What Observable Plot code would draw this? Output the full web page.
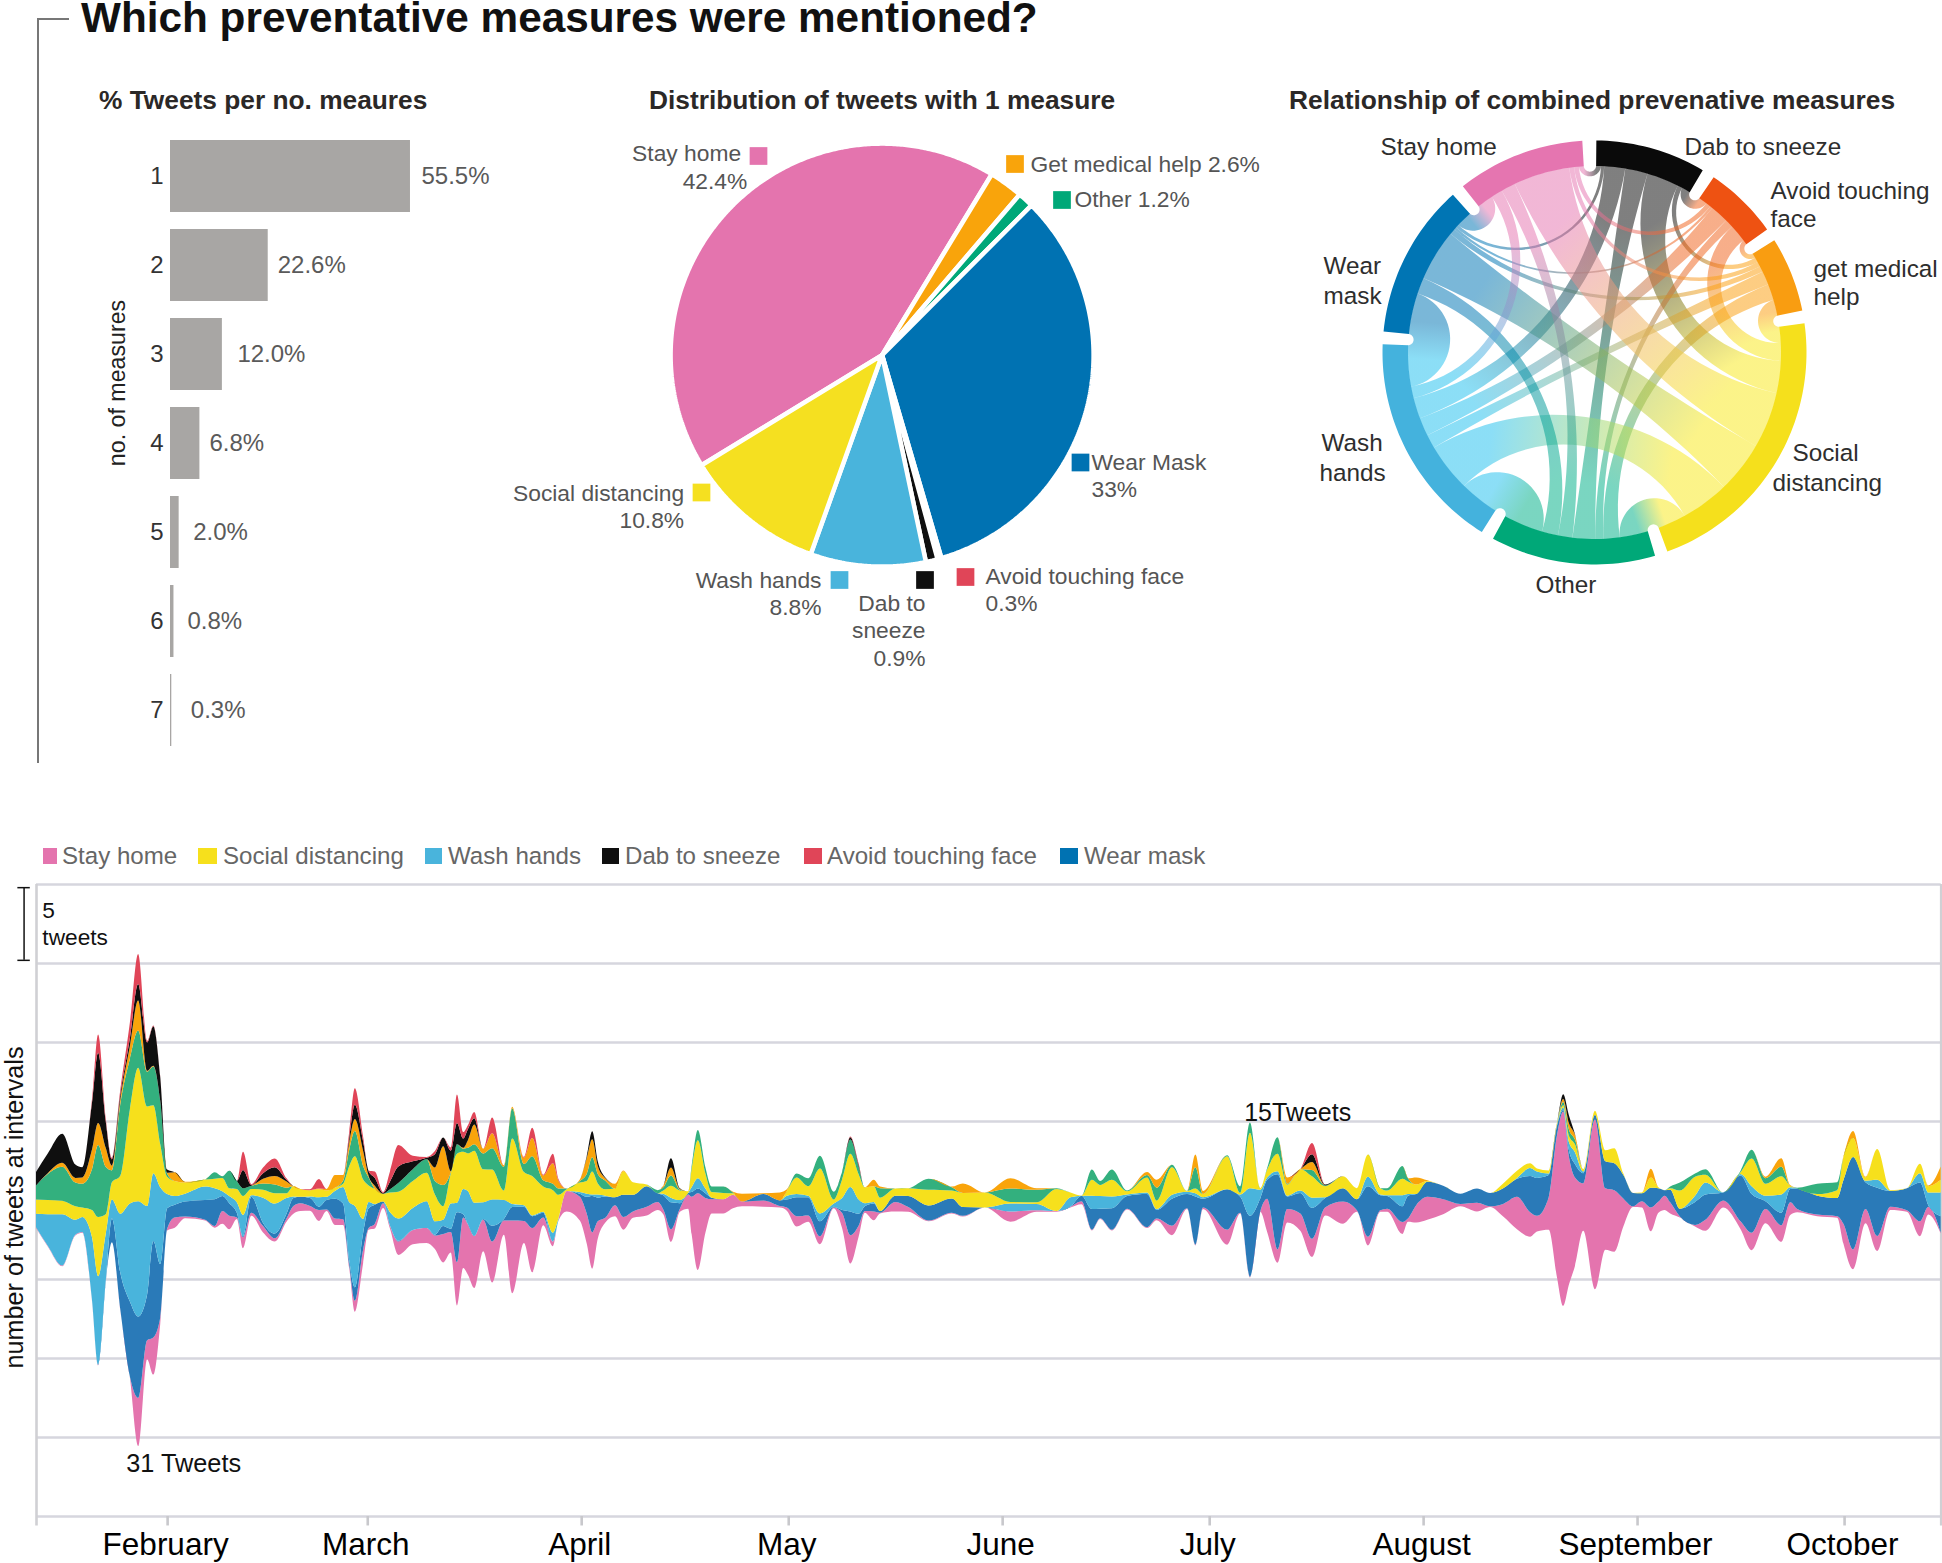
<!DOCTYPE html>
<html><head><meta charset="utf-8">
<script src="https://cdn.jsdelivr.net/npm/d3@7"></script>
<script src="https://cdn.jsdelivr.net/npm/@observablehq/plot@0.6"></script>
<style>
html,body{margin:0;padding:0;background:#fff;overflow:hidden}
#root{position:relative;width:1942px;height:1563px;overflow:hidden;font-family:"Liberation Sans",Arial,sans-serif}
svg,svg text{font-family:"Liberation Sans",Arial,sans-serif !important}
.h{position:absolute;white-space:nowrap;line-height:1}
.sw{position:absolute}
</style></head><body><div id="root"></div>
<script>
// ---------- DATA: bars ----------
const barLabels = ["1","2","3","4","5","6","7"];
const barValues = [55.5,22.6,12.0,6.8,2.0,0.8,0.3];
// ---------- DATA: pie ----------
const pieNames  = ["Stay home","Get medical help","Other","Wear Mask","Avoid touching face","Dab to sneeze","Wash hands","Social distancing"];
const pieValues = [42.4,2.6,1.2,33,0.3,0.9,8.8,10.8];
const pieColors = ["#e474ae","#f9a40b","#00a878","#0072b2","#e04558","#0f0f0f","#49b4dc","#f5e020"];
// ---------- DATA: chord ----------
const chordNames  = ["Dab to sneeze","Avoid touching face","get medical help","Social distancing","Other","Wash hands","Wear mask","Stay home"];
const chordColors = ["#0a0a0a","#ee5212","#f99d11","#f5e01c","#00a878","#44b2dd","#0075b4","#e575b0"];
const ribbonColors = ["#0a0a0a","#f0641e","#fb9f10","#f8e81c","#00b088","#22c0ee","#0075b4","#e575b0"];
const chordDab    = [0,2.7,1.5,10,7,6.5,1,1.5];
const chordAvoid  = [2.7,0,1.5,5.5,2.6,5.7,.8,1.5];
const chordHelp   = [1.5,1.5,0,5,5,4.3,1.8,1.5];
const chordSocial = [10,5.5,5,0,8.8,15,16,17.5];
const chordOther  = [7,2.6,5,8.8,0,12.25,5.05,4.5];
const chordWash   = [6.5,5.7,4.3,15,12.25,0,12.75,3.6];
const chordMask   = [1,.8,1.8,16,5.05,12.75,0,5];
const chordHome   = [1.5,1.5,1.5,17.5,4.5,3.6,5,0];
// ---------- DATA: stream (tweets; days since 13 Jan 2020) ----------
const days = [0,1.7,3.8,5.7,6.7,8.1,9,10.1,11,12.2,
13.6,14.8,16.1,17,18,19,20.1,21.6,24.5,25.9,
27,28,29.1,30,31.2,32.9,34.6,36.3,37.3,38.3,
39.7,41,42.1,43.3,44.5,45.4,46.2,47.4,48.2,49.1,
50.3,51.3,52.5,54.6,56.6,57.8,59,60.1,61,61.9,
62.6,63.5,64.8,66.1,67.8,69,70.7,71.9,73.5,74.9,
75.7,76.9,78.8,79.8,80.6,81.4,82.5,83.9,85.1,86.5,
88.5,90.1,90.9,92,93.3,94.5,95,95.9,97,97.9,
99.6,101,102.3,105.4,107.8,108.8,110.2,111.9,113.6,115.6,
116.8,118,119.2,120.1,121.4,122.3,124.5,126.4,129.3,132.7,
134.3,137.5,141.2,145,147.9,149.9,151.5,153,154.2,155.9,
158.1,161,162.4,164.6,166.8,168,169.1,172.6,174.5,175.9,
177.4,178.4,179.9,181.3,183.2,184.9,186.8,189.4,191.4,193,
194.8,195.8,198,198.8,200,201.6,203.9,206.4,208.8,210.7,
212.6,214.6,216.5,217.5,219.2,220.4,221.3,222.1,223,224.2,
225.9,227.4,228.7,230,231.4,232.7,234,235.1,236,236.8,
238.2,240.4,241.9,244.5,247,248.6,250.6,252.9,254.2,255.2,
258.1,261,261.9,263.3,265.1,266.8,268.7,271.1,273,274.2,276];
const avoidTouching = [0,0,0,0,0,.2,1.15,.2,.1,.3,
1,1.9,.1,.05,.05,0,0,0,0,0,
0,0,0,1.15,.05,.35,.55,.1,0,0,
.05,.6,0,0,0,.4,1.05,.3,.05,.4,
.05,.65,1.35,.35,.05,.2,0,.2,1.8,.4,
.25,.4,0,1,0,0,.05,.65,.05,.6,
.1,0,0,0,0,0,0,0,0,0,
0,0,0,0,0,0,0,0,0,0,
0,0,0,0,0,0,0,0,0,0,
0,.05,.1,0,0,0,0,0,0,0,
0,0,0,0,0,0,0,0,0,0,
0,0,0,0,0,0,0,0,0,0,
0,0,0,0,0,.7,0,0,0,0,
0,0,0,0,0,0,0,0,0,0,
0,0,0,0,0,0,0,0,0,0,
0,0,0,0,0,0,0,0,0,0,
0,0,0,0,0,0,0,0,0,0,
0,0,0,0,0,0,0,0,0,0,0];
const dabToSneeze = [.85,1.25,1.85,.85,.65,2.95,4.45,1.7,.4,.3,
.5,1.05,1.8,2.5,1.5,.2,0,0,0,0,
0,0,0,1.15,.05,.35,.55,.1,0,0,
0,0,0,0,0,.3,.9,.6,.3,.5,
.05,.5,1.05,.5,.1,.85,.55,1.3,1.35,.6,
.7,.4,0,0,0,0,0,0,0,0,
0,0,0,.1,.5,.3,.05,0,0,0,
0,0,0,.6,.05,0,0,0,0,0,
0,0,0,0,0,0,0,0,0,0,
0,.15,.1,0,0,0,0,0,0,0,
0,0,0,0,0,0,0,0,0,0,
0,0,0,0,0,0,0,0,0,0,
0,0,0,0,0,.5,.05,0,0,0,
0,0,0,0,0,0,0,0,0,0,
0,0,0,0,0,0,.3,.5,.05,0,
0,0,0,0,0,0,0,0,0,0,
0,0,0,0,0,0,0,0,0,0,
0,0,0,0,0,0,0,0,0,0,0];
const getMedicalHelp = [0,.05,.25,.3,.4,1.25,1.4,1.2,.3,.3,
.8,1.9,.05,.05,0,.05,.55,.05,0,0,
0,0,0,0,0,.3,.55,.4,0,0,
0,.05,.1,.8,.35,.45,.75,.95,.1,.2,
0,0,0,0,0,.85,2.45,.05,0,.05,
.5,1.25,.3,.95,.1,.1,.4,1.15,.3,1.3,
.5,0,.1,1,1.15,.5,.15,.3,.05,0,
0,0,.1,.5,.05,0,0,0,0,0,
0,.05,.5,.05,.5,.1,0,0,0,0,
0,0,0,0,.4,.1,0,0,0,.05,
.6,0,.65,.1,0,0,0,0,0,0,
0,.2,.5,0,0,.8,.2,0,0,0,
0,0,0,.4,0,.5,0,0,0,0,
0,0,0,0,.45,.05,0,0,0,0,
0,0,0,0,0,0,.2,.4,.3,0,
0,0,0,0,0,0,.55,0,0,0,
0,0,0,0,0,0,.1,.55,.05,0,
0,0,.05,.45,.05,0,0,0,0,.05,.85];
const otherMeasure = [.9,1.65,2.15,1.5,1.5,2.55,4.55,3,.75,4.5,
3.2,2.35,2.2,2.45,2.75,.2,0,0,0,.4,
.1,1.1,.5,.5,.2,.4,.55,.35,0,0,
0,0,0,0,.2,1.05,1.6,.85,.5,0,
0,.2,.55,.75,.85,.85,1.35,.1,.6,.2,
.35,.4,1,1.35,1.5,1.9,.5,1.25,.4,.4,
.4,.05,.1,.45,.9,.6,.55,0,0,0,
0,.2,.2,.65,.05,0,.2,.65,.4,.35,
.4,.05,0,0,0,0,.25,.5,.8,.5,
.5,.9,.5,0,0,.6,0,0,.7,.2,
0,0,.85,.8,.05,0,0,.65,.25,.65,
.05,.15,.8,.15,0,1.35,0,.05,.4,.65,
0,.1,1.05,.05,0,.4,.05,0,0,0,
0,.15,.8,.2,0,0,0,0,0,0,
0,0,0,0,0,0,.2,.4,.3,0,
0,0,0,0,0,0,0,0,0,.1,
.5,.2,.35,0,.1,.55,.35,.6,0,.05,
.65,.5,0,0,0,0,0,0,0,0,0];
const socialDistancing = [.9,.9,.85,.85,.6,1.7,3.75,1.25,1.1,2.4,
5.95,8.45,6.3,4.3,2.75,1.1,.95,.7,.45,.6,
.85,.5,.85,1.2,.4,.5,.65,.3,.65,.5,
.4,.5,.4,.2,.2,2.3,3.15,2.5,1.05,.95,
.5,1.25,1.7,1.7,1.8,1.7,.85,1.9,3.1,2.35,
2.4,3.3,2.1,1.9,.6,4.15,2.1,2.5,1.6,2.7,
1.5,.1,.6,.8,1.45,.7,.4,.55,1.5,.8,
.1,0,.2,.75,.6,.1,1.15,2.4,.95,.35,
.4,.1,0,0,0,.3,1.05,.6,2.85,.25,
1.15,2.1,1.6,1,1,.85,.45,.5,1,.5,
.9,.95,.1,.1,1.4,.3,0,1,.7,1.05,
.2,.95,.55,1.75,.05,.3,.2,2.1,.1,3.5,
.1,.5,1.1,.7,1.35,1.35,.7,.75,.7,1.4,
.4,.3,1.05,.8,.6,.05,0,0,0,0,
.3,.45,.3,.2,.2,.1,.15,.4,.5,.15,
.25,.7,.95,.1,0,.05,.65,.05,0,.1,
1.15,1.2,.5,0,.1,1.75,.75,1.15,.1,0,
.1,.5,1.45,1.2,.2,1.95,.05,0,.6,.4,.8];
const washHands = [.85,2,3.25,.95,.95,3.95,5.6,3,1.2,3.7,
6.2,7.3,5.6,4.3,4.85,.9,.55,.5,.85,.7,
.3,.45,.65,1.35,.1,1.6,1.9,1,.1,0,
.1,.6,.2,.5,1.05,3.7,5.15,.9,.4,.05,
0,.85,1.4,1.4,1.7,.85,.4,1.6,.6,1.6,
2.1,2.1,1.05,1.65,1.2,.2,.1,.05,.05,.55,
.1,0,.1,.2,.1,.2,.05,0,0,0,
0,0,.1,.3,.2,0,.3,.65,.3,0,
0,0,0,0,0,.25,.2,.1,.5,.2,
.75,1.55,.9,.2,.1,0,0,0,0,0,
0,0,.5,.4,0,.6,0,.85,.8,.75,
.1,.1,.05,.25,.15,.2,.1,0,.15,1.75,
.55,.15,.2,.05,.15,.65,.05,0,0,.6,
.05,.05,.7,.1,0,0,0,0,0,0,
0,.05,.5,.4,.1,.1,.15,.5,.75,.1,
0,0,0,0,0,0,0,0,0,0,
0,.4,.75,0,.1,.5,.35,1.15,.1,0,
0,0,0,0,.1,.5,0,0,.6,.8,1.5];
const wearMask = [0,0,0,0,0,0,0,0,1.5,2.3,
4.75,5.15,2.9,6.1,3.4,1.3,.8,.95,1.25,1.7,
.95,.8,.3,.05,1,.2,.3,.3,.5,.4,
.5,.2,.6,1.25,1,.3,.85,1.05,1.25,1.2,
.1,0,.05,0,0,.05,.5,.2,3.15,.2,
0,0,.05,1,.1,.85,.9,.75,.3,0,
0,0,.2,1.05,2.3,1.5,1.35,.5,1.4,1.05,
1.3,.55,.9,1.7,.35,.1,.3,.3,.3,.1,
0,0,0,.4,.35,.5,1.2,1.15,.95,.05,
.2,1.5,.75,.3,.5,.1,.4,.7,.95,.9,
.55,0,0,0,0,0,.35,1.3,.6,1.35,
.8,2.1,.55,1.7,.9,3.05,.55,2.55,1,3.85,
.85,1.2,4.75,.8,1.3,1.95,.6,.85,.7,3.2,
.95,.8,1,1.45,.7,.95,.85,.65,.9,.85,
1,1.15,2.3,2.4,1.4,.6,.1,.4,.85,.65,
.3,1.7,1.7,1.5,.85,.5,1.25,.85,.35,.8,
.5,1.45,1.6,.5,2.9,2.45,.5,.8,.85,1.3,
1.2,1.15,2.75,5.85,1.7,3.05,1,1.4,2.45,.1,1.05];
const stayHome = [.05,.05,.05,.05,.05,.05,.05,.05,0,.05,
.05,3.05,1.2,2.35,.4,.1,.65,.1,.05,.1,
.8,.85,.1,.7,.2,.4,.2,.2,.5,.5,
.3,.7,.1,.4,.35,.2,.7,.85,.1,.3,
.3,.2,.85,.9,.95,.85,1.8,1.3,2.75,3.2,
3.2,3.3,2,2.6,.9,4.6,1.4,2.8,.5,.3,
.05,1.3,1.5,1.9,2.3,1.1,.3,.7,.8,.4,
.55,.5,.3,.8,.2,.9,2.35,4.85,2.2,.9,
.9,.85,.3,.4,.1,.2,.65,.4,.5,.05,
.95,1.8,.7,.1,.55,.05,.6,.3,.05,.05,
.05,0,.65,.1,.05,.05,.2,.05,.05,.05,
.05,.05,.1,.6,.05,.05,.1,.95,.05,.05,
0,2.1,.85,.85,1.1,1.15,.5,1.4,.1,.55,
.1,.2,.75,.2,1.1,1.45,.95,.15,.55,.05,
.8,2.05,1.55,1,2.05,9,12.3,8.2,5.6,3,
10.75,3.9,3.9,1.8,.05,.4,1.5,.7,.9,.7,
.05,.1,.7,.45,.5,1.1,.9,1.05,.8,.2,
.1,.1,1.25,1.25,.9,.95,.2,.1,.95,.5,.05];
const monthNames = ["February","March","April","May","June","July","August","September","October"];
const gridTweets = [-15,-10,-5,0,5,10,15,20,-20];

// ---------- LAYOUT ----------
const root = document.getElementById("root");
function html(text,left,top,size,color,bold,extra){
  const d=document.createElement("div");d.className="h";d.textContent=text;
  d.style.cssText+=`left:${left}px;top:${top}px;font-size:${size}px;color:${color};font-weight:${bold?700:400};${extra||""}`;
  root.appendChild(d);return d;
}
function place(svg,left,top){svg.style.position="absolute";svg.style.left=left+"px";svg.style.top=top+"px";svg.style.maxWidth="none";svg.style.background="transparent";root.appendChild(svg);}
function box(left,top,w,h,color){const d=document.createElement("div");d.className="sw";d.style.cssText+=`left:${left}px;top:${top}px;width:${w}px;height:${h}px;background:${color}`;root.appendChild(d);}

// Titles and bracket
html("Which preventative measures were mentioned?",81,.5,42.3,"#111",true,"line-height:34px;");
box(36.5,18,2,745,"#777");box(36.5,18,32,2,"#777");
html("% Tweets per no. meaures",99,86.5,26.3,"#2b2827",true);
html("Distribution of tweets with 1 measure",649,86.5,26.3,"#2b2827",true);
html("Relationship of combined prevenative measures",1289,86.5,26.35,"#2b2827",true);

// ---------- BAR PANEL ----------
const barRows = barLabels.map((k,i)=>({k,v:barValues[i],t:barValues[i].toFixed(1)+"%"}));
const barGaps = [11,9.5,15,9.5,14,13.5,19];
place(Plot.plot({
  width:470,height:640,marginLeft:80,marginRight:0,marginTop:10.8,marginBottom:5.8,
  x:{domain:[0,90.2],axis:null},
  y:{domain:barLabels,paddingInner:.194,paddingOuter:.097,axis:null},
  marks:[
    Plot.barX(barRows,{x:"v",y:"k",fill:"#a8a6a4"}),
    Plot.axisY({tickSize:0,tickPadding:7,fontSize:24,fill:"#333",label:null}),
    Plot.text(barRows,{x:(d,i)=>d.v+barGaps[i]/4.325,y:"k",text:"t",textAnchor:"start",fontSize:24,fill:"#5a5a5a"}),
    Plot.text(["no. of measures"],{x:null,y:null,text:d=>d,frameAnchor:"left",textAnchor:"middle",dx:-53,dy:-60,rotate:-90,fontSize:23.2,fill:"#222"})
  ]
}),90,120);

// ---------- PIE PANEL ----------
const pieCx=881.6,pieCy=354.6,pieR=211.5,pieL=500,pieT=120,pieW=790,pieH=560;
const pieStart=238.6;
let acc=pieStart;
const pieMarks=pieValues.map((v,i)=>{
  const a0=acc,a1=acc+v*3.6;acc=a1;
  const pts=[[0,0]];
  for(let a=a0;a<a1;a+=0.5){const t=a*Math.PI/180;pts.push([pieR*Math.sin(t),-pieR*Math.cos(t)]);}
  const t=a1*Math.PI/180;pts.push([pieR*Math.sin(t),-pieR*Math.cos(t)]);pts.push([0,0]);
  return Plot.line(pts,{x:d=>d[0],y:d=>d[1],fill:pieColors[i],stroke:"#fff",strokeWidth:4.5,strokeLinejoin:"miter",curve:"linear"});
});
const pl=(x,y,t)=>({x:x-pieCx,y:y-pieCy,t});
const pieEnd=[pl(740.6,153.6,"Stay home"),pl(746.8,181,"42.4%"),pl(683.6,493,"Social distancing"),pl(683.6,520,"10.8%"),pl(821,580,"Wash hands"),pl(821,607,"8.8%"),pl(925,603,"Dab to"),pl(925,630,"sneeze"),pl(925,658,"0.9%")];
const pieStartT=[pl(1030,164.7,"Get medical help 2.6%"),pl(1074,199.4,"Other 1.2%"),pl(1091,462,"Wear Mask"),pl(1091,489,"33%"),pl(985,576,"Avoid touching face"),pl(985,603,"0.3%")];
const pieSw=[[758,155.5,0],[1014.5,163.5,1],[1061.5,199.5,2],[1080,462,3],[965,576.5,4],[924.5,579.5,5],[839,579.5,6],[701,492,7]].map(([x,y,i])=>({x:x-pieCx,y:y-pieCy,c:pieColors[i]}));
place(Plot.plot({
  width:pieW,height:pieH,margin:0,
  x:{domain:[pieL-pieCx,pieL+pieW-pieCx],range:[0,pieW],axis:null},
  y:{domain:[pieT-pieCy,pieT+pieH-pieCy],range:[0,pieH],axis:null},
  marks:[...pieMarks,
    Plot.text(pieEnd,{x:"x",y:"y",text:"t",textAnchor:"end",fontSize:22.8,fill:"#555"}),
    Plot.text(pieStartT,{x:"x",y:"y",text:"t",textAnchor:"start",fontSize:22.8,fill:"#555"}),
    ...pieSw.map(s=>Plot.dot([s],{x:"x",y:"y",symbol:"square",r:10,fill:s.c,stroke:"none"}))
  ]
}),pieL,pieT);

// ---------- CHORD PANEL ----------
const matrix=[chordDab,chordAvoid,chordHelp,chordSocial,chordOther,chordWash,chordMask,chordHome];
const chCx=1594,chCy=352,chRo=212,chRi=187,chL=1290,chT=120,chW=652,chH=520;
const gap=3.5,n=8,rad=Math.PI/180;
const pol=(a,r)=>[r*Math.sin(a*rad),-r*Math.cos(a*rad)];
let cur=0.5;const arcs=[],slots={};
matrix.forEach((row,i)=>{
  const start=cur;
  for(let k=1;k<n;k++){const j=((i-k)%n+n)%n;slots[i+"-"+j]=[cur,cur+row[j]];cur+=row[j];}
  arcs.push([start,cur]);cur+=gap;
});
function arcPts(a0,a1,r){const p=[];const st=Math.max(2,Math.ceil((a1-a0)/1.5));for(let s=0;s<=st;s++)p.push(pol(a0+(a1-a0)*s/st,r));return p;}
// edge of a ribbon: an arc meeting the ring at right angles
function bend(a,b){
  let sep=Math.abs(a-b)%360;if(sep>180)sep=360-sep;
  const p=pol(a,chRi),q=pol(b,chRi),out=[];
  if(sep>176)return out;
  const s=sep*rad/2;
  const v=[p[0]+q[0],p[1]+q[1]],l=Math.hypot(v[0],v[1])||1;
  const dC=chRi/Math.cos(s),rC=chRi*Math.tan(s);
  const C=[v[0]/l*dC,v[1]/l*dC];
  const t0=Math.atan2(p[1]-C[1],p[0]-C[0]);
  let t1=Math.atan2(q[1]-C[1],q[0]-C[0]);
  let dt=t1-t0;while(dt>Math.PI)dt-=2*Math.PI;while(dt<-Math.PI)dt+=2*Math.PI;
  for(let k=1;k<28;k++){const t=t0+dt*k/28;out.push([C[0]+rC*Math.cos(t),C[1]+rC*Math.sin(t)]);}
  return out;
}
const ribbons=[];
for(let i=0;i<n;i++)for(let j=i+1;j<n;j++){
  if(!matrix[i][j])continue;
  const [a0,a1]=slots[i+"-"+j],[b0,b1]=slots[j+"-"+i];
  const pts=[...arcPts(a0,a1,chRi),...bend(a1,b0),...arcPts(b0,b1,chRi),...bend(b1,a0)];pts.push(pts[0]);
  ribbons.push({i,j,pts,pa:pol((a0+a1)/2,chRi),pb:pol((b0+b1)/2,chRi)});
}
const ringMarks=arcs.map(([a0,a1],i)=>{
  const pts=[...arcPts(a0,a1,chRo),...arcPts(a0,a1,chRi-0.5).reverse()];pts.push(pts[0]);
  return Plot.line(pts,{x:d=>d[0],y:d=>d[1],fill:chordColors[i],stroke:"none",curve:"linear"});
});
const defsMark=(index,{x,y})=>{
  const defs=d3.create("svg:defs");
  ribbons.forEach((r,k)=>{
    const g=defs.append("linearGradient").attr("id","rib"+k).attr("gradientUnits","userSpaceOnUse")
      .attr("x1",x(r.pa[0])).attr("y1",y(r.pa[1])).attr("x2",x(r.pb[0])).attr("y2",y(r.pb[1]));
    g.append("stop").attr("offset","15%").attr("stop-color",ribbonColors[r.i]);
    g.append("stop").attr("offset","85%").attr("stop-color",ribbonColors[r.j]);
  });
  return defs.node();
};
const cl=(x,y,t)=>({x:x-chCx,y:y-chCy,t});
const chStart=[cl(1684,147,"Dab to sneeze"),cl(1770,191,"Avoid touching"),cl(1770,219,"face"),cl(1813,269,"get medical"),cl(1813,297,"help"),cl(1792,453,"Social"),cl(1772,483,"distancing"),cl(1323,266,"Wear"),cl(1323,296,"mask"),cl(1321,443,"Wash"),cl(1319,473,"hands"),cl(1380,147,"Stay home"),cl(1535,585,"Other")];
place(Plot.plot({
  width:chW,height:chH,margin:0,
  x:{domain:[chL-chCx,chL+chW-chCx],range:[0,chW],axis:null},
  y:{domain:[chT-chCy,chT+chH-chCy],range:[0,chH],axis:null},
  marks:[defsMark,
    ...ribbons.map((r,k)=>Plot.line(r.pts,{x:d=>d[0],y:d=>d[1],fill:`url(#rib${k})`,fillOpacity:.52,stroke:"none",curve:"linear"})),
    ...ringMarks,
    Plot.text(chStart,{x:"x",y:"y",text:"t",textAnchor:"start",fontSize:24.3,fill:"#2e2e2e"})
  ]
}),chL,chT);

// ---------- STREAM LEGEND ----------
const streamNames=["Stay home","Wear mask","Wash hands","Social distancing","Other","Get medical help","Dab to sneeze","Avoid touching face"];
const streamColors=["#e474ae","#2a7ab8","#49b4dc","#f6e01c","#33b07e","#f9a40b","#0f0f0f","#e04558"];
const streamSeries=[stayHome,wearMask,washHands,socialDistancing,otherMeasure,getMedicalHelp,dabToSneeze,avoidTouching];
[[43,14,62,"Stay home",0],[198,19,223,"Social distancing",3],[425,17,448,"Wash hands",2],[602,17,625,"Dab to sneeze",6],[804,18,827,"Avoid touching face",7],[1060,18,1084,"Wear mask",1]]
 .forEach(([sx,sw,tx,t,i])=>{box(sx,848,sw,16,streamColors[i]==="#2a7ab8"?"#0072b2":streamColors[i]);html(t,tx,844,24.1,"#666",false);});

// ---------- STREAM PANEL ----------
const t0=Date.UTC(2020,0,13),DAY=864e5;
const toDate=d=>new Date(t0+d*DAY);
const table=[];
streamNames.forEach((s,k)=>days.forEach((d,i)=>table.push({date:toDate(d),value:streamSeries[k][i],series:s})));
// the centred stack sits on half of its tallest total, so the chart's middle line is there
const mid=d3.max(days,(d,i)=>d3.sum(streamSeries,s=>s[i]))/2;
const monthTicks=monthNames.map((_,i)=>new Date(Date.UTC(2020,i+1,1)));
const xEnds=[toDate(0),toDate(276)];
place(Plot.plot({
  width:1942,height:693,marginLeft:36,marginRight:1.3,marginTop:14,marginBottom:47,
  x:{type:"utc",domain:xEnds,axis:null},
  y:{domain:[mid-20,mid+20],axis:null},
  color:{domain:streamNames,range:streamColors},
  marks:[
    Plot.ruleY(gridTweets.map(g=>g+mid),{stroke:"#d6d6de",strokeWidth:2.4}),
    Plot.ruleX(xEnds,{y1:mid+20,y2:mid-20.6,stroke:"#d0d0d4",strokeWidth:2.6}),
    Plot.ruleX(monthTicks,{y1:mid-20,y2:mid-20.6,stroke:"#c8c8cc",strokeWidth:2.6}),
    Plot.areaY(table,{x:"date",y:"value",z:"series",fill:"series",order:streamNames,offset:"center",curve:"monotone-x"}),
    Plot.axisX({ticks:monthTicks,tickFormat:d=>monthNames[d.getUTCMonth()-1],tickSize:0,tickPadding:16,dx:-2,fontSize:31.5,fill:"#000",label:null}),
    Plot.ruleX([toDate(-1.8)],{y1:mid+19.8,y2:mid+15.2,stroke:"#111",strokeWidth:1.5}),
    Plot.ruleY([mid+19.8,mid+15.2],{x1:toDate(-2.7),x2:toDate(-.9),stroke:"#111",strokeWidth:1.5}),
    Plot.text(["5","tweets"],{x:toDate(.85),y:(d,i)=>mid+[18.35,16.6][i],text:d=>d,textAnchor:"start",fontSize:22.7,fill:"#111"}),
    Plot.text(["31 Tweets"],{x:toDate(13),y:mid-16.65,text:d=>d,textAnchor:"start",fontSize:25.3,fill:"#111"}),
    Plot.text(["15Tweets"],{x:toDate(175),y:mid+5.56,text:d=>d,textAnchor:"start",fontSize:25,fill:"#111"}),
    Plot.text(["number of tweets at intervals"],{x:null,y:null,text:d=>d,frameAnchor:"left",textAnchor:"middle",dx:-21.5,dy:7,rotate:-90,fontSize:25.2,fill:"#111"})
  ]
}),0,870);
</script></body></html>
